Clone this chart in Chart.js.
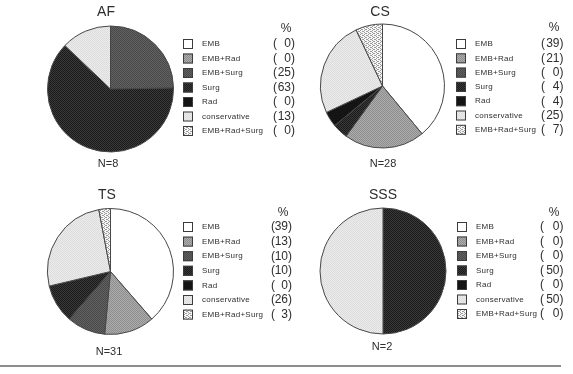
<!DOCTYPE html>
<html lang="en">
<head>
    <meta charset="UTF-8">
    <title>Treatment by tumour group</title>
    <script src="https://cdn.jsdelivr.net/npm/chart.js"></script>
    <style>
        body {
            margin: 0;
            background-color: #ffffff;
        }
        #wrap {
            position: relative;
            width: 573px;
            height: 374px;
        }
        #wrap canvas {
            position: absolute;
            left: 0;
            top: 0;
        }
        .rule {
            position: absolute;
            left: 0;
            top: 365px;
            width: 561px;
            height: 2px;
            background-color: #8c8c8c;
        }
    </style>
</head>
<body>
    <div id="wrap">
        <canvas id="chart-af" width="573" height="374"></canvas>
        <canvas id="chart-cs" width="573" height="374"></canvas>
        <canvas id="chart-ts" width="573" height="374"></canvas>
        <canvas id="chart-sss" width="573" height="374"></canvas>
        <div class="rule"></div>
    </div>

    <script>
        // data (percent of patients per treatment)
        const treatments = ['EMB', 'EMB+Rad', 'EMB+Surg', 'Surg', 'Rad', 'conservative', 'EMB+Rad+Surg'];
        const afPct = [0, 0, 25, 63, 0, 13, 0];
        const csPct = [39, 21, 0, 4, 4, 25, 7];
        const tsPct = [39, 13, 10, 10, 0, 26, 3];
        const sssPct = [0, 0, 0, 50, 0, 50, 0];
        const groupNames = ['AF', 'CS', 'TS', 'SSS'];
        const groupN = [8, 28, 31, 2];

        // where each panel sits on the page
        const panels = [
            { id: 'chart-af',  pct: afPct,  cx: 110.5, cy: 89,    r: 63, titleX: 106, titleY: 12,  nX: 108, nY: 164, legX: 183, legY: 44,  pitch: 14.5, parL: 273, parR: 295, headX: 286, headY: 29 },
            { id: 'chart-cs',  pct: csPct,  cx: 382.5, cy: 86,    r: 62, titleX: 380, titleY: 12,  nX: 383, nY: 164, legX: 456, legY: 44,  pitch: 14.3, parL: 541, parR: 563.5, headX: 554, headY: 28 },
            { id: 'chart-ts',  pct: tsPct,  cx: 110.5, cy: 271.5, r: 63, titleX: 107, titleY: 195, nX: 109, nY: 352, legX: 183, legY: 227, pitch: 14.6, parL: 271, parR: 292, headX: 283, headY: 213 },
            { id: 'chart-sss', pct: sssPct, cx: 383,   cy: 271,   r: 63, titleX: 383, titleY: 195, nX: 382, nY: 347, legX: 457, legY: 227, pitch: 14.5, parL: 540, parR: 563.5, headX: 554, headY: 213 }
        ];

        // small halftone patterns, like the scanned print
        function makePattern(bg, fg, dots) {
            const c = document.createElement('canvas');
            c.width = 4;
            c.height = 4;
            const g = c.getContext('2d');
            g.fillStyle = bg;
            g.fillRect(0, 0, 4, 4);
            g.fillStyle = fg;
            dots.forEach(d => g.fillRect(d[0], d[1], 1, 1));
            return g.createPattern(c, 'repeat');
        }
        const checker = [[0, 0], [2, 0], [1, 1], [3, 1], [0, 2], [2, 2], [1, 3], [3, 3]];
        const sparse = [[0, 0], [2, 1], [0, 2], [2, 3], [1, 1], [3, 3]];
        const fills = [
            '#ffffff',
            makePattern('#acacac', '#8e8e8e', checker),
            makePattern('#626262', '#484848', checker),
            makePattern('#3a3a3a', '#1a1a1a', checker),
            '#141414',
            makePattern('#ececec', '#dcdcdc', checker),
            makePattern('#f6f6f6', '#9c9c9c', sparse)
        ];

        const textColor = '#2e2e2e';

        // titles, N, legend and percent column
        const panelText = {
            id: 'panelText',
            afterDraw(chart, args, p) {
                const ctx = chart.ctx;
                ctx.save();
                ctx.fillStyle = textColor;
                ctx.textBaseline = 'middle';

                ctx.textAlign = 'center';
                ctx.font = '14px "Liberation Sans", Arial, sans-serif';
                ctx.fillText(p.name, p.titleX, p.titleY);
                ctx.font = '11px "Liberation Sans", Arial, sans-serif';
                ctx.fillText('N=' + p.n, p.nX, p.nY);
                ctx.font = '12px "Liberation Sans", Arial, sans-serif';
                ctx.fillText('%', p.headX, p.headY);

                const values = chart.data.datasets[0].data;
                const colors = chart.data.datasets[0].backgroundColor;
                chart.data.labels.forEach((label, i) => {
                    const y = p.legY + i * p.pitch;
                    ctx.fillStyle = colors[i];
                    ctx.fillRect(p.legX, y - 5, 10, 10);
                    ctx.strokeStyle = '#3c3c3c';
                    ctx.lineWidth = 1;
                    ctx.strokeRect(p.legX + 0.5, y - 4.5, 9, 9);

                    ctx.fillStyle = textColor;
                    ctx.textAlign = 'left';
                    ctx.font = '8px "Liberation Sans", Arial, sans-serif';
                    ctx.letterSpacing = '0.25px';
                    ctx.fillText(label, p.legX + 19, y);
                    ctx.letterSpacing = '0px';

                    ctx.font = '12px "Liberation Sans", Arial, sans-serif';
                    ctx.fillText('(', p.parL, y);
                    ctx.textAlign = 'right';
                    ctx.fillText(')', p.parR, y);
                    const closeW = ctx.measureText(')').width;
                    ctx.fillText(String(values[i]), p.parR - closeW, y);
                });
                ctx.restore();
            }
        };

        panels.forEach((p, k) => {
            const canvas = document.getElementById(p.id);
            const W = canvas.width, H = canvas.height;
            const half = p.r + 0.5;
            new Chart(canvas, {
                type: 'pie',
                data: {
                    labels: treatments,
                    datasets: [{
                        data: p.pct,
                        backgroundColor: fills,
                        borderColor: '#474747',
                        borderWidth: 1
                    }]
                },
                options: {
                    responsive: false,
                    animation: false,
                    events: [],
                    layout: {
                        padding: {
                            left: p.cx - half,
                            top: p.cy - half,
                            right: W - (p.cx + half),
                            bottom: H - (p.cy + half)
                        }
                    },
                    plugins: {
                        legend: { display: false },
                        tooltip: { enabled: false },
                        panelText: Object.assign({ name: groupNames[k], n: groupN[k] }, p)
                    }
                },
                plugins: [panelText]
            });
        });
    </script>
</body>
</html>
